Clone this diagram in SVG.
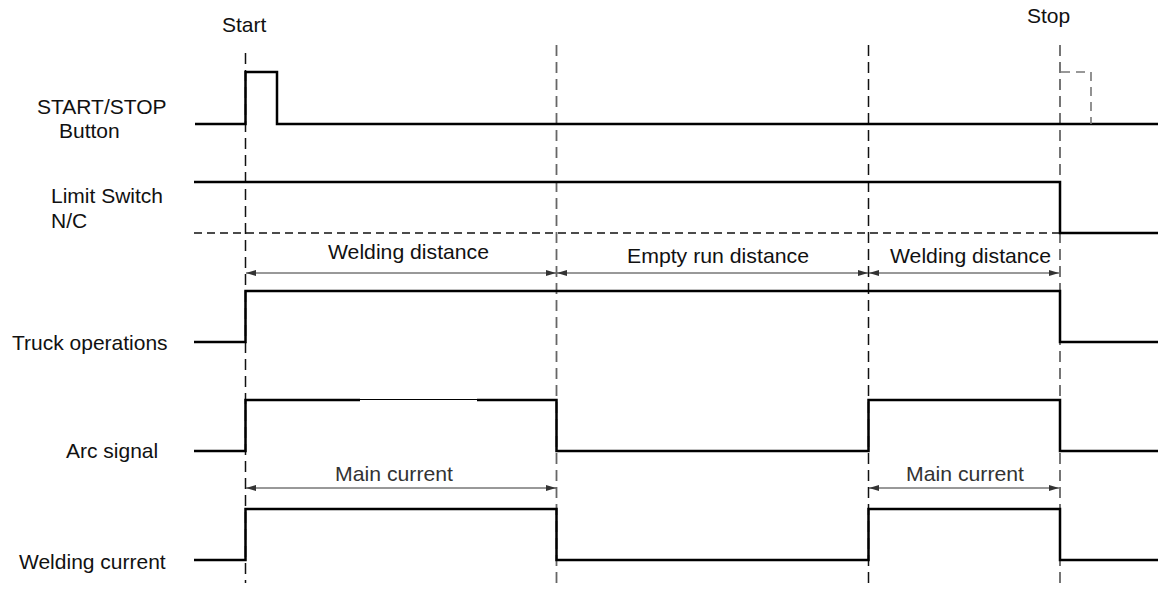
<svg xmlns="http://www.w3.org/2000/svg" width="1158" height="593" viewBox="0 0 1158 593">
<style>
  text { font-family: "Liberation Sans", Arial, sans-serif; font-size: 21px; fill: #111; }
  .sig { fill: none; stroke: #000; stroke-width: 2.5; stroke-linejoin: miter; }
  .guide { fill: none; stroke: #111; stroke-width: 1.5; stroke-dasharray: 11 6; }
  .guide-grey { fill: none; stroke: #666; stroke-width: 1.8; stroke-dasharray: 11 6; }
  .hdash { fill: none; stroke: #111; stroke-width: 1.5; stroke-dasharray: 8 5; }
  .dim { fill: none; stroke: #333; stroke-width: 1; marker-start: url(#ah); marker-end: url(#ah); }
  .lbl-grey { fill: #333; }
</style>
<defs>
  <marker id="ah" viewBox="0 0 10 6" refX="10" refY="3" markerWidth="10" markerHeight="6" markerUnits="userSpaceOnUse" orient="auto-start-reverse">
    <path d="M0,0 L10,3 L0,6 Z" fill="#333"/>
  </marker>
</defs>
<rect width="1158" height="593" fill="#fff"/>

<g id="connectors">
  <line class="guide" x1="245.5" y1="53" x2="245.5" y2="583"/>
  <line class="guide-grey" x1="556.5" y1="45" x2="556.5" y2="583"/>
  <line class="guide" x1="868.5" y1="45" x2="868.5" y2="583"/>
  <line class="guide-grey" x1="1060" y1="45" x2="1060" y2="583"/>
  <line class="hdash" x1="194" y1="233" x2="1060" y2="233"/>
  <line class="dim" x1="246" y1="273" x2="556" y2="273"/>
  <line class="dim" x1="557" y1="273" x2="868" y2="273"/>
  <line class="dim" x1="869" y1="273" x2="1059" y2="273"/>
  <line class="dim" x1="246" y1="488" x2="556" y2="488"/>
  <line class="dim" x1="869" y1="488" x2="1059" y2="488"/>
  <text x="328" y="259" textLength="161" lengthAdjust="spacingAndGlyphs">Welding distance</text>
  <text x="627" y="263" textLength="182" lengthAdjust="spacingAndGlyphs">Empty run distance</text>
  <text x="890" y="263" textLength="161" lengthAdjust="spacingAndGlyphs">Welding distance</text>
  <text class="lbl-grey" x="335" y="481" textLength="118" lengthAdjust="spacingAndGlyphs">Main current</text>
  <text class="lbl-grey" x="906" y="481" textLength="118" lengthAdjust="spacingAndGlyphs">Main current</text>
  <text x="222" y="32">Start</text>
  <text x="1027" y="23">Stop</text>
</g>

<g id="start-stop-button">
  <text x="37" y="114">START/STOP</text>
  <text x="59" y="138">Button</text>
  <path class="sig" d="M195,124 H245.5 V72 H277 V124 H1158"/>
  <path d="M1061,72 H1091 V124" fill="none" stroke="#777" stroke-width="1.6" stroke-dasharray="9 6"/>
</g>

<g id="limit-switch">
  <text x="51" y="203">Limit Switch</text>
  <text x="51" y="228">N/C</text>
  <path class="sig" d="M194,182 H1060 V233 H1158"/>
</g>

<g id="truck-operations">
  <text x="12" y="350">Truck operations</text>
  <path class="sig" d="M194,342 H245.5 V291 H1060 V342 H1158"/>
</g>

<g id="arc-signal">
  <text x="66" y="458">Arc signal</text>
  <path class="sig" d="M194,451 H245.5 V400 H360"/>
  <line x1="360" y1="399.5" x2="477" y2="399.5" stroke="#000" stroke-width="1.2"/>
  <path class="sig" d="M477,400 H556.5 V451 H868.5 V400 H1060 V451 H1158"/>
</g>

<g id="welding-current">
  <text x="19" y="569">Welding current</text>
  <path class="sig" d="M194,560 H245.5 V509 H556.5 V560 H868.5 V509 H1060 V560 H1158"/>
</g>
</svg>
